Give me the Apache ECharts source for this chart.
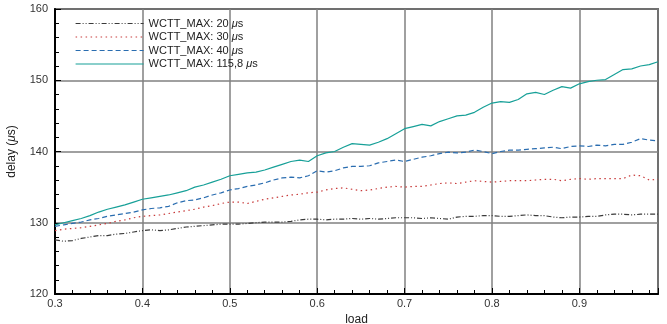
<!DOCTYPE html>
<html>
<head>
<meta charset="utf-8">
<script src="https://cdn.jsdelivr.net/npm/echarts@6/dist/echarts.min.js"></script>
<style>
  html, body { margin: 0; padding: 0; background: #fff; }
  #chart { width: 667px; height: 324px; }
</style>
</head>
<body>
<div id="chart"></div>
<script>
// load values 0.30 .. 0.99
const load = [];
for (let i = 30; i <= 99; i++) load.push(i / 100);

const names = ['WCTT_MAX: 20 μs', 'WCTT_MAX: 30 μs', 'WCTT_MAX: 40 μs', 'WCTT_MAX: 115,8 μs'];

const delay20 = [
  127.6,127.4,127.5,127.8,128.0,128.2,128.2,128.4,128.5,128.7,
  128.9,129.0,128.9,129.0,129.2,129.4,129.5,129.6,129.7,129.8,
  129.8,129.8,129.9,130.0,130.1,130.1,130.1,130.2,130.4,130.5,
  130.5,130.4,130.5,130.5,130.6,130.5,130.6,130.5,130.6,130.7,
  130.7,130.7,130.6,130.7,130.6,130.5,130.8,130.9,130.9,131.0,
  131.0,130.9,130.9,131.0,131.1,131.0,131.0,130.8,130.7,130.8,
  130.8,130.9,130.9,131.1,131.2,131.2,131.1,131.2,131.2,131.2
];
const delay30 = [
  128.9,129.1,129.2,129.3,129.5,129.7,129.9,130.2,130.4,130.7,
  130.9,131.0,131.1,131.3,131.5,131.7,131.9,132.2,132.4,132.7,
  132.9,132.9,132.7,133.0,133.3,133.5,133.7,133.9,134.0,134.2,
  134.3,134.6,134.8,134.9,134.7,134.5,134.6,134.8,135.0,135.1,
  135.0,135.1,135.1,135.3,135.5,135.6,135.5,135.7,135.9,135.8,
  135.7,135.8,135.9,135.9,135.9,136.0,136.1,136.1,135.9,136.1,
  136.2,136.1,136.2,136.2,136.2,136.2,136.7,136.6,136.0,136.1
];
const delay40 = [
  129.5,129.7,129.9,130.1,130.4,130.6,130.9,131.1,131.3,131.5,
  131.8,132.0,132.1,132.3,132.8,133.1,133.2,133.5,133.9,134.2,
  134.6,134.8,135.1,135.3,135.6,136.0,136.3,136.4,136.3,136.6,
  137.3,137.1,137.3,137.7,137.9,137.9,138.0,138.4,138.6,138.8,
  138.6,138.9,139.2,139.4,139.7,139.9,139.8,139.9,140.2,140.0,
  139.7,140.0,140.2,140.2,140.3,140.4,140.5,140.6,140.4,140.7,
  140.8,140.7,140.9,140.8,141.0,141.0,141.3,141.8,141.6,141.5
];
const delay115 = [
  129.7,130.0,130.3,130.6,131.0,131.5,131.9,132.2,132.5,132.9,
  133.3,133.5,133.7,133.9,134.2,134.5,135.0,135.3,135.7,136.1,
  136.6,136.8,137.0,137.1,137.4,137.8,138.2,138.6,138.8,138.6,
  139.4,139.8,140.0,140.6,141.1,141.0,140.9,141.3,141.8,142.5,
  143.2,143.5,143.8,143.6,144.2,144.6,145.0,145.1,145.5,146.2,
  146.8,147.0,146.9,147.3,148.1,148.3,148.0,148.6,149.1,148.9,
  149.5,149.8,150.0,150.1,150.8,151.5,151.6,152.0,152.2,152.6
];

const colors = ['#3a3a3a', '#c83a3a', '#2a6db0', '#17a098'];
const dashes = [[5, 2, 1, 2, 1, 2], [1.5, 3.5], [5, 3], 'solid'];
const values = [delay20, delay30, delay40, delay115];

const font = 'Liberation Sans, Arial, sans-serif';
const chart = echarts.init(document.getElementById('chart'), null, {renderer: 'canvas'});

chart.setOption({
  animation: false,
  grid: {
    left: 55, right: 9, top: 9, bottom: 30,
    containLabel: false, outerBoundsMode: 'none',
    show: true, borderColor: '#000', borderWidth: 1.5
  },
  legend: {
    orient: 'vertical',
    left: 70, top: 13,
    itemWidth: 68, itemHeight: 10, itemGap: 2.5,
    itemTextGap: 10,
    data: names,
    itemStyle: {opacity: 0},
    lineStyle: {width: 1.2},
    formatter: function (n) {
      return '{a|' + n.replace(' μs', ' ') + '}{i|μ}{a|s}';
    },
    textStyle: {
      fontFamily: font, fontSize: 11, color: '#222',
      rich: {
        a: {fontFamily: font, fontSize: 11, color: '#222', lineHeight: 12},
        i: {fontFamily: font, fontSize: 11, color: '#222', fontStyle: 'italic', lineHeight: 12}
      }
    }
  },
  xAxis: {
    type: 'value',
    min: 0.3, max: 0.99, interval: 0.1,
    name: 'load', nameLocation: 'middle', nameGap: 19,
    nameTextStyle: {fontFamily: font, fontSize: 12, color: '#222'},
    axisLine: {show: true, lineStyle: {color: '#000', width: 2}},
    axisTick: {show: true, inside: true, length: 6, lineStyle: {color: '#000', width: 1}},
    minorTick: {show: true, splitNumber: 5, length: 4, lineStyle: {color: '#000', width: 1}},
    splitLine: {show: true, lineStyle: {color: '#808080', width: 1.5}},
    axisLabel: {
      fontFamily: font, fontSize: 11, color: '#333', margin: 4,
      showMaxLabel: false,
      formatter: v => v.toFixed(1)
    }
  },
  yAxis: {
    type: 'value',
    min: 120, max: 160, interval: 10,
    name: '{a|delay (}{i|μ}{a|s)}', nameLocation: 'middle', nameGap: 37, nameRotate: 90,
    nameTextStyle: {
      fontFamily: font, fontSize: 12, color: '#222',
      rich: {
        a: {fontFamily: font, fontSize: 12, color: '#222'},
        i: {fontFamily: font, fontSize: 12, color: '#222', fontStyle: 'italic'}
      }
    },
    axisLine: {show: true, lineStyle: {color: '#000', width: 2}},
    axisTick: {show: true, inside: true, length: 6, lineStyle: {color: '#000', width: 1}},
    minorTick: {show: true, splitNumber: 5, length: 4, lineStyle: {color: '#000', width: 1}},
    splitLine: {show: true, lineStyle: {color: '#808080', width: 1.5}},
    axisLabel: {fontFamily: font, fontSize: 11, color: '#333', margin: 7}
  },
  series: names.map((n, k) => ({
    name: n,
    type: 'line',
    symbol: 'none',
    color: colors[k],
    lineStyle: {color: colors[k], width: 1.2, type: dashes[k]},
    data: load.map((x, i) => [x, values[k][i]])
  }))
});
</script>
</body>
</html>
